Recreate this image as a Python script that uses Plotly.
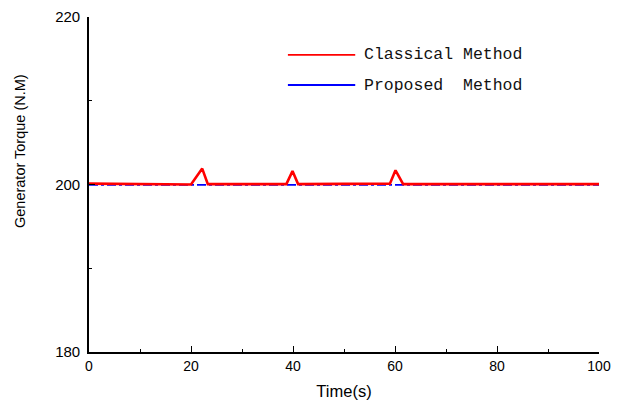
import plotly.graph_objects as go

# Data
classical_t = [0, 20, 22.2, 23.3, 38.7, 39.9, 41.0, 59.0, 60.1, 61.6, 100]
classical_y = [200.1, 200.0, 201.9, 200.05, 200.05, 201.6, 200.05, 200.1, 201.7, 200.05, 200.05]
proposed_t = [0, 100]
proposed_y = [199.95, 199.95]
x_ticks = [0, 20, 40, 60, 80, 100]
y_ticks = [180, 200, 220]
series_names = ["Classical Method", "Proposed\u00a0 Method"]

fig = go.Figure()
fig.add_trace(go.Scatter(x=proposed_t, y=proposed_y, mode="lines",
                         line=dict(color="#0000ff", width=1.6, dash="dashdot"),
                         name=series_names[1], showlegend=False))
fig.add_trace(go.Scatter(x=classical_t, y=classical_y, mode="lines",
                         line=dict(color="#ff0000", width=2.6),
                         name=series_names[0], showlegend=False))

# Manual legend (line samples + labels)
legend_items = [(series_names[0], "#ff0000", 0.887), (series_names[1], "#0000ff", 0.797)]
for name, color, yy in legend_items:
    fig.add_shape(type="line", xref="paper", yref="paper",
                  x0=0.39, x1=0.522, y0=yy, y1=yy,
                  line=dict(color=color, width=1.8))
    fig.add_annotation(xref="paper", yref="paper", x=0.535, y=yy, text=name,
                       showarrow=False, xanchor="left", yanchor="middle",
                       font=dict(family="Liberation Mono, monospace", size=16.5, color="#111"))

# Y-axis title placed as rotated annotation
fig.add_annotation(xref="paper", yref="paper", x=0, y=0.60, xshift=-69,
                   text="Generator Torque (N.M)", textangle=-90, showarrow=False,
                   xanchor="center", yanchor="middle",
                   font=dict(family="Liberation Sans, Arial, sans-serif", size=14.5, color="black"))

fig.update_layout(
    width=624, height=404,
    margin=dict(l=89, r=25, t=17, b=52),
    paper_bgcolor="white", plot_bgcolor="white",
    font=dict(family="Liberation Sans, Arial, sans-serif", color="black"),
    xaxis=dict(range=[0, 100], tickvals=x_ticks, ticks="inside", ticklen=6,
               tickwidth=1.3, tickcolor="black", showgrid=False, zeroline=False,
               showline=True, linecolor="black", linewidth=1.6, automargin=False,
               tickfont=dict(size=14), ticklabelstandoff=0,
               minor=dict(dtick=10, ticks="inside", ticklen=3, tickcolor="black", tickwidth=1.3),
               title=dict(text="Time(s)", font=dict(size=16.5), standoff=13)),
    yaxis=dict(range=[180, 220], tickvals=y_ticks, ticks="inside", ticklen=6,
               tickwidth=1.3, tickcolor="black", showgrid=False, zeroline=False,
               showline=True, linecolor="black", linewidth=1.6, automargin=False,
               tickfont=dict(size=15), ticklabelstandoff=4,
               minor=dict(dtick=10, ticks="inside", ticklen=3, tickcolor="black", tickwidth=1.3)),
)

fig.write_html("out.html")
